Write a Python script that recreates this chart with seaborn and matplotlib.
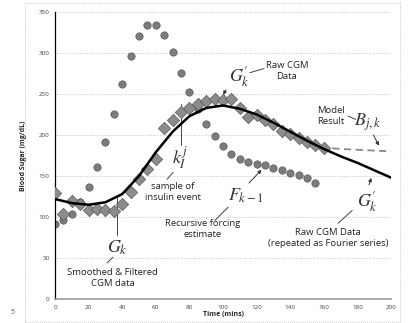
import matplotlib
matplotlib.use("Agg")
import matplotlib.pyplot as plt
import seaborn as sns
import pandas as pd
from matplotlib.patches import Rectangle

# raw CGM readings (diamonds), every 5 minutes
raw_t = [0, 5, 10, 15, 20, 25, 30, 35, 40, 45, 50, 55, 60, 65, 70, 75, 80, 85, 90, 95,
         100, 105, 110, 115, 120, 125, 130, 135, 140, 145, 150, 155, 160]
raw_g = [129, 104, 120, 116, 108, 110, 109, 107, 116, 131, 146, 159, 171, 208, 218, 228, 233, 238, 242, 244,
         243, 244, 233, 222, 225, 218, 213, 205, 201, 196, 192, 188, 184]

# recursive forcing estimate (circles)
force_t = [0, 5, 10, 15, 20, 25, 30, 35, 40, 45, 50, 55, 60, 65, 70, 75, 80, 85, 90, 95,
           100, 105, 110, 115, 120, 125, 130, 135, 140, 145, 150, 155]
force_g = [92, 97, 104, 118, 137, 161, 191, 226, 262, 296, 321, 334, 334, 322, 301, 276, 253, 232, 214, 199,
           186, 177, 171, 167, 165, 163, 160, 157, 154, 151, 147, 142]

# smoothed & filtered CGM (solid line)
smooth_t = [0, 10, 20, 30, 40, 50, 60, 70, 80, 90, 100, 110, 120, 130, 140, 150, 160, 170, 180, 190, 200]
smooth_g = [122, 117, 115, 118, 128, 150, 179, 204, 223, 233, 236, 232, 225, 215, 204, 193, 183, 174, 166, 157, 148]

# model result (dashed line)
model_t = [158, 170, 180, 190, 200]
model_g = [185, 183, 182, 181, 180]

raw = pd.DataFrame({"t": raw_t, "g": raw_g})
force = pd.DataFrame({"t": force_t, "g": force_g})
smooth = pd.DataFrame({"t": smooth_t, "g": smooth_g})
model = pd.DataFrame({"t": model_t, "g": model_g})

sns.set_style("white")
plt.rcParams["font.family"] = ["Open Sans", "DejaVu Sans"]
plt.rcParams["mathtext.fontset"] = "stix"

fig = plt.figure(figsize=(4.1, 3.23), dpi=100)
ax = fig.add_axes([0.134, 0.074, 0.820, 0.889])

# dotted frame around the chart area
fig.patches.append(Rectangle((25 / 410, 1 / 323), 375 / 410, 319 / 323, transform=fig.transFigure,
                             fill=False, ls=(0, (1, 1.5)), lw=0.6, ec="#bbbbbb"))

for yv in range(50, 351, 50):
    ax.axhline(yv, color="#c8c8c8", lw=0.7, ls=(0, (1, 1.5)), zorder=0)

sns.scatterplot(data=force, x="t", y="g", ax=ax, marker="o", s=28, color="#7c7c7c",
                edgecolor="#5a5a5a", linewidth=0.5, zorder=2)
sns.lineplot(data=model, x="t", y="g", ax=ax, color="#8a8a8a", lw=1.3, ls=(0, (4, 2.5)), zorder=2)
sns.scatterplot(data=raw, x="t", y="g", ax=ax, marker="D", s=40, color="#8c8c8c",
                edgecolor="#5a5a5a", linewidth=0.5, zorder=3)
sns.lineplot(data=smooth, x="t", y="g", ax=ax, color="black", lw=1.8, zorder=4)

ax.set_xlim(0, 200)
ax.set_ylim(0, 350)
ax.set_xticks(range(0, 201, 20))
ax.set_yticks(range(0, 351, 50))
ax.tick_params(labelsize=4.5, length=2, width=0.5, colors="#444444", pad=2)
ax.set_xlabel("Time (mins)", fontsize=5, fontweight="bold", labelpad=1)
ax.set_ylabel("Blood Sugar (mg/dL)", fontsize=5, fontweight="bold", labelpad=8)
for s in ["top", "right"]:
    ax.spines[s].set_visible(False)
ax.spines["left"].set_color("black")
ax.spines["left"].set_linewidth(0.9)
ax.spines["bottom"].set_color("#999999")
ax.spines["bottom"].set_linewidth(1.2)

txt = dict(fontsize=6.8, ha="center", va="center", color="#222222", linespacing=1.3)
mth = dict(fontsize=13, ha="center", va="center", color="#333333")
ln = dict(color="#444444", lw=0.7)
arr = dict(arrowstyle="-|>", color="#333333", lw=0.7, mutation_scale=5)

# top G'_k and raw CGM data
ax.text(109.5, 271, r"$G_k^{\prime}$", **mth)
ax.annotate("", xy=(99.4, 246), xytext=(102.4, 258), arrowprops=arr)
ax.plot([116, 124.4], [276, 281], **ln)
ax.text(138, 278, "Raw CGM\nData", **txt)

# model result
ax.text(164, 223, "Model\nResult", **txt)
ax.plot([174.5, 179], [223, 219], **ln)
ax.text(186, 216, r"$B_{j,k}$", **mth)
ax.annotate("", xy=(193.5, 184), xytext=(188.7, 203), arrowprops=arr)

# insulin event
ax.plot([75, 75], [238, 188], **ln)
ax.text(74.4, 172, r"$k_I^j$", **mth)
ax.plot([70.2, 66.7], [154.5, 146], **ln)
ax.text(70.2, 131, "sample of\ninsulin event", **txt)

# smoothed G_k
ax.plot([36.9, 36.9], [123, 78], **ln)
ax.text(36.9, 63, r"$G_k$", **mth)
ax.plot([34.5, 31], [51, 44], **ln)
ax.text(34.5, 26, "Smoothed & Filtered\nCGM data", **txt)

# forcing estimate
ax.text(113.7, 126, r"$F_{k-1}$", **mth)
ax.annotate("", xy=(124, 160), xytext=(114.3, 139), arrowprops=arr)
ax.plot([103, 95.2], [112, 96], **ln)
ax.text(88, 85, "Recursive forcing\nestimate", **txt)

# bottom G'_k
ax.text(185.7, 119, r"$G_k^{\prime}$", **mth)
ax.annotate("", xy=(188.7, 151), xytext=(186.3, 136), arrowprops=arr)
ax.plot([176.8, 168.5], [108, 92.5], **ln)
ax.text(162.5, 74, "Raw CGM Data\n(repeated as Fourier series)", **txt)

fig.text(13 / 410, 1 - 313 / 323, "5", fontsize=5, color="#555555", ha="center", va="center")

fig.savefig("out.png", dpi=100)
